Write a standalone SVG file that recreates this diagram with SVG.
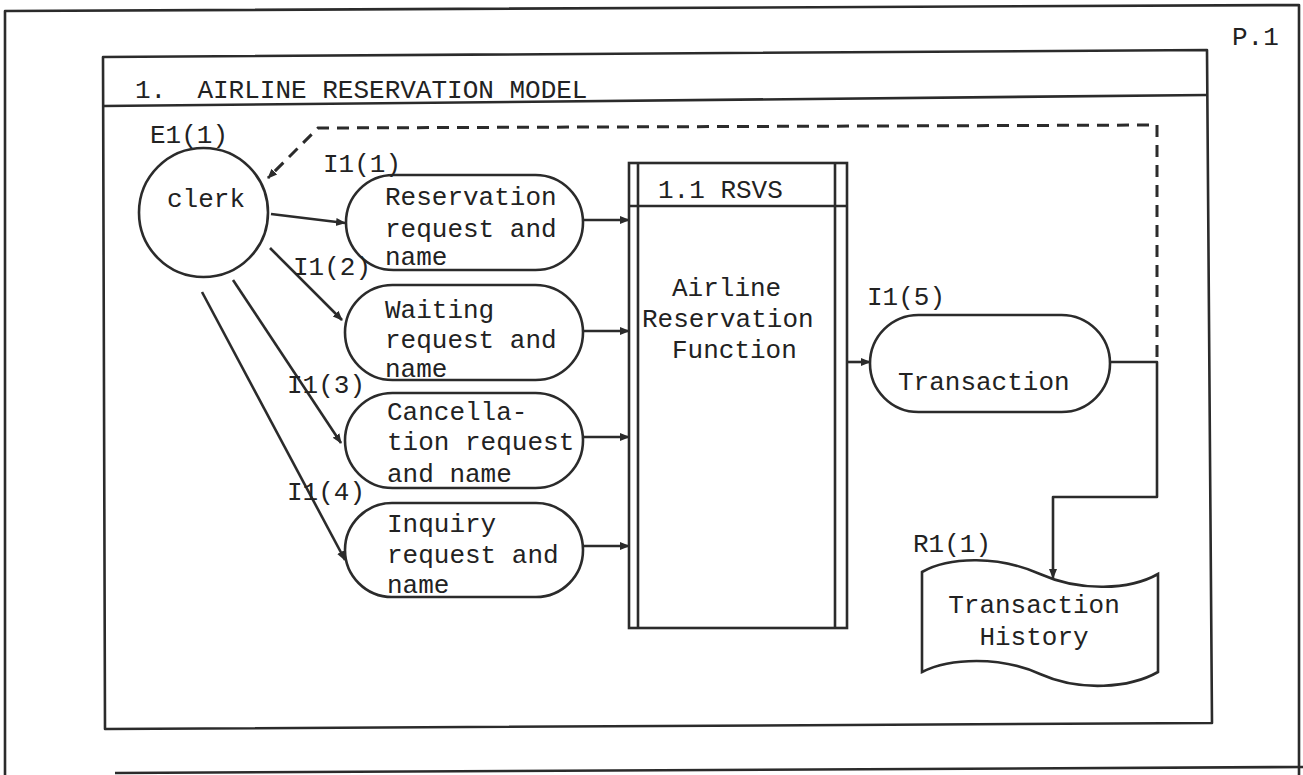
<svg xmlns="http://www.w3.org/2000/svg" width="1303" height="775" viewBox="0 0 1303 775">
<defs>
<style>
.ln{fill:none;stroke:#2b2b2b;stroke-width:2.6;stroke-linejoin:round}
.sh{fill:#fff;stroke:#2b2b2b;stroke-width:2.6}
.t{font-family:"Liberation Mono","DejaVu Sans Mono",monospace;font-size:26px;fill:#222}
.dash{fill:none;stroke:#2b2b2b;stroke-width:3;stroke-dasharray:12 8}
</style>
<marker id="ah" markerUnits="userSpaceOnUse" markerWidth="10" markerHeight="10" refX="9" refY="5" orient="auto">
<path d="M0,1 L10,5 L0,9 Z" fill="#2b2b2b"/>
</marker>
</defs>
<rect width="1303" height="775" fill="#fff"/>
<g id="page-frame">
<path class="ln" d="M5,775 L5,11 L1299,5 L1299,775"/>
<path class="ln" d="M115,773 L1303,767"/>
<text class="t" x="1232" y="45">P.1</text>
</g>
<g id="model-frame">
<path class="ln" d="M103,57 L1207,50 L1212,723 L105,729 Z"/>
<path class="ln" d="M103,106 L1207,95"/>
<text class="t" x="135" y="98" style="white-space:pre">1.  AIRLINE RESERVATION MODEL</text>
</g>
<g id="connectors">
<path class="ln" d="M271,214 L345,223" marker-end="url(#ah)"/>
<path class="ln" d="M270,248 L342,320" marker-end="url(#ah)"/>
<path class="ln" d="M233,280 L341,443" marker-end="url(#ah)"/>
<path class="ln" d="M202,292 L345,560" marker-end="url(#ah)"/>
<path class="ln" d="M583,220 L629,220" marker-end="url(#ah)"/>
<path class="ln" d="M583,331 L629,331" marker-end="url(#ah)"/>
<path class="ln" d="M583,437 L629,437" marker-end="url(#ah)"/>
<path class="ln" d="M583,546 L629,546" marker-end="url(#ah)"/>
<path class="ln" d="M847,362 L870,362" marker-end="url(#ah)"/>
<path class="ln" d="M1110,362 L1157,362 L1157,497 L1053,497 L1053,578" marker-end="url(#ah)"/>
<path class="dash" d="M1157,357 L1157,125 L318,128 L268,178" marker-end="url(#ah)"/>
</g>
<g id="e1-clerk">
<circle class="sh" cx="203.5" cy="212.5" r="64.5"/>
<text class="t" x="150" y="143">E1(1)</text>
<text class="t" x="167" y="207">clerk</text>
</g>
<g id="i1-1">
<rect class="sh" x="346" y="175" width="237" height="95" rx="47.5"/>
<text class="t" x="323" y="172">I1(1)</text>
<text class="t" x="385" y="205">Reservation</text>
<text class="t" x="385" y="237">request and</text>
<text class="t" x="385" y="265">name</text>
</g>
<g id="i1-2">
<rect class="sh" x="345" y="285" width="238" height="95" rx="47.5"/>
<text class="t" x="293" y="275">I1(2)</text>
<text class="t" x="385" y="318">Waiting</text>
<text class="t" x="385" y="348">request and</text>
<text class="t" x="385" y="377">name</text>
</g>
<g id="i1-3">
<rect class="sh" x="345" y="393" width="238" height="95" rx="47.5"/>
<text class="t" x="287" y="393">I1(3)</text>
<text class="t" x="387" y="420">Cancella-</text>
<text class="t" x="387" y="450">tion request</text>
<text class="t" x="387" y="482">and name</text>
</g>
<g id="i1-4">
<rect class="sh" x="345" y="503" width="238" height="94" rx="47"/>
<text class="t" x="287" y="500">I1(4)</text>
<text class="t" x="387" y="532">Inquiry</text>
<text class="t" x="387" y="563">request and</text>
<text class="t" x="387" y="593">name</text>
</g>
<g id="rsvs">
<rect class="sh" x="629" y="163" width="218" height="465"/>
<path class="ln" d="M638,163 L638,628 M835,163 L835,628 M629,206 L847,206"/>
<text class="t" x="658" y="198">1.1 RSVS</text>
<text class="t" x="672" y="296">Airline</text>
<text class="t" x="642" y="327">Reservation</text>
<text class="t" x="672" y="358">Function</text>
</g>
<g id="i1-5">
<rect class="sh" x="870" y="315" width="240" height="97" rx="48.5"/>
<text class="t" x="867" y="305">I1(5)</text>
<text class="t" x="898" y="390">Transaction</text>
</g>
<g id="r1-1">
<path class="sh" d="M922,572 C950,556 1000,556 1040,574 C1080,592 1130,590 1158,574 L1158,672 C1130,688 1080,692 1040,674 C1000,656 950,658 922,672 Z"/>
<text class="t" x="913" y="552">R1(1)</text>
<text class="t" x="1034" y="613" text-anchor="middle">Transaction</text>
<text class="t" x="1034" y="645" text-anchor="middle">History</text>
</g>
</svg>
